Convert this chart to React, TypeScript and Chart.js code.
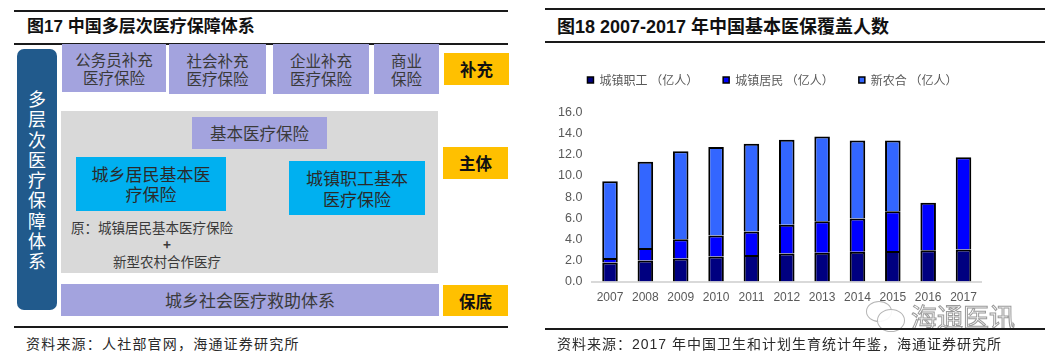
import React, { useEffect, useRef } from "react";
import { Chart, registerables } from "chart.js";

Chart.register(...registerables);

const years = ["2007", "2008", "2009", "2010", "2011", "2012", "2013", "2014", "2015", "2016", "2017"];
const urbanEmployee = [1.8, 2.0, 2.19, 2.37, 2.52, 2.65, 2.74, 2.83, 2.89, 2.96, 3.03];
const urbanResident = [0.43, 1.18, 1.82, 2.0, 2.21, 2.72, 2.96, 3.15, 3.77, 4.49, 8.74];
const newRural = [7.26, 8.15, 8.33, 8.36, 8.32, 8.05, 8.02, 7.36, 6.7, null, null];
const seriesNames = ["城镇职工 （亿人）", "城镇居民 （亿人）", "新农合 （亿人）"];
const seriesColors = ["#000080", "#0000FF", "#3366FF"];
const yTicks = [0, 2, 4, 6, 8, 10, 12, 14, 16];

const CJK = '"Noto Sans CJK SC", sans-serif';
const MIX = '"Liberation Sans", Arial, "Noto Sans CJK SC", sans-serif';

const legendGap = {
  id: "legendGap",
  beforeInit(chart: any) {
    const legend = chart.legend;
    if (!legend) return;
    const fit = legend.fit;
    legend.fit = function () {
      fit.call(this);
      this.height += 16.5;
    };
  },
  afterLayout(chart: any) {
    if (chart.legend) chart.legend.left += 14;
  },
};

function BarChart() {
  const ref = useRef<HTMLCanvasElement>(null);
  useEffect(() => {
    if (!ref.current) return;
    const data = [urbanEmployee, urbanResident, newRural];
    const chart = new Chart(ref.current, {
      type: "bar",
      data: {
        labels: years,
        datasets: data.map((d, i) => ({
          label: seriesNames[i],
          data: d as any,
          backgroundColor: seriesColors[i],
          borderColor: "#000000",
          borderWidth: 2,
          barPercentage: 0.44,
          categoryPercentage: 1,
        })),
      },
      options: {
        responsive: false,
        animation: false,
        layout: { padding: { left: 0, right: 3, top: 0, bottom: 0 } },
        plugins: {
          tooltip: { enabled: false },
          legend: {
            position: "top",
            labels: {
              boxWidth: 6,
              boxHeight: 6,
              padding: 25,
              color: "#595959",
              font: { family: CJK, size: 12 },
              generateLabels(chart: any) {
                const items = (Chart.defaults.plugins.legend.labels as any).generateLabels(chart);
                return items.map((it: any) => ({ ...it, lineWidth: 1.5 }));
              },
            },
          },
        },
        scales: {
          x: {
            stacked: true,
            grid: { display: false, drawTicks: false },
            border: { display: true, color: "#D9D9D9", width: 2 },
            ticks: {
              color: "#595959",
              padding: 9,
              font: { family: MIX, size: 12 },
              maxRotation: 0,
              autoSkip: false,
            },
          },
          y: {
            stacked: true,
            min: 0,
            max: 16,
            grid: { display: false, drawTicks: false },
            border: { display: false },
            afterBuildTicks(axis: any) {
              axis.ticks = yTicks.map((v) => ({ value: v }));
            },
            ticks: {
              color: "#595959",
              padding: 10,
              font: { family: MIX, size: 12.5 },
              callback: (v: any) => Number(v).toFixed(1),
            },
          },
        },
      },
      plugins: [legendGap],
    });
    return () => chart.destroy();
  }, []);
  return <canvas ref={ref} width={438} height={265} style={{ display: "block" }} />;
}

const abs = (l: number, t: number, w: number, h: number, extra: React.CSSProperties = {}): React.CSSProperties => ({
  position: "absolute",
  left: l,
  top: t,
  width: w,
  height: h,
  ...extra,
});

const PURPLE = "#A3A3DE";
const ORANGE = "#FFC000";
const CYAN = "#00B0F0";
const GRAY = "#D9D9D9";
const NAVYBOX = "#215A8C";

function Box(props: { l: number; t: number; w: number; h: number; bg: string; text: string; size: number; lh: number; color?: string; bold?: boolean }) {
  const { l, t, w, h, bg, text, size, lh, color, bold } = props;
  return (
    <div
      style={abs(l, t, w, h, {
        background: bg,
        display: "flex",
        alignItems: "center",
        justifyContent: "center",
        textAlign: "center",
        whiteSpace: "pre",
        fontFamily: CJK,
        fontSize: size,
        lineHeight: lh + "px",
        color: color || "#3a3a3a",
        fontWeight: bold ? 700 : 400,
      })}
    >
      {text}
    </div>
  );
}

const verticalChars = ["多", "层", "次", "医", "疗", "保", "障", "体", "系"];

function Diagram() {
  return (
    <>
      <div style={abs(14, 10, 494, 2, { background: "#1a1a1a" })} />
      <div style={abs(27, 16, 400, 22, { fontFamily: MIX, fontWeight: 700, fontSize: 17, lineHeight: "22px", color: "#111" })}>
        图17 中国多层次医疗保障体系
      </div>
      <div style={abs(14, 43, 494, 2, { background: "#1a1a1a" })} />

      <div style={abs(17, 49, 40, 261, { background: NAVYBOX, borderRadius: 7 })} />
      <div style={abs(17, 88, 40, 190, { display: "flex", flexDirection: "column", alignItems: "center" })}>
        {verticalChars.map((c, i) => (
          <div key={i} style={{ fontFamily: CJK, fontSize: 18, lineHeight: "20.3px", color: "#ffffff" }}>
            {c}
          </div>
        ))}
      </div>

      <Box l={62} t={44} w={104} h={48} bg={PURPLE} text={"公务员补充\n医疗保险"} size={15.5} lh={18} />
      <Box l={169} t={44} w={97} h={50} bg={PURPLE} text={"社会补充\n医疗保险"} size={15.5} lh={18} />
      <Box l={273} t={44} w={96} h={50} bg={PURPLE} text={"企业补充\n医疗保险"} size={15.5} lh={18} />
      <Box l={374} t={44} w={65} h={50} bg={PURPLE} text={"商业\n保险"} size={15.5} lh={18} />
      <Box l={444} t={53} w={65} h={32} bg={ORANGE} text={"补充"} size={16.5} lh={20} color="#111" bold />

      <div style={abs(61, 111, 377, 162, { background: GRAY })} />
      <Box l={192} t={117} w={135} h={32} bg={PURPLE} text={"基本医疗保险"} size={16.5} lh={20} />
      <Box l={76} t={157} w={150} h={54} bg={CYAN} text={"城乡居民基本医\n疗保险"} size={17} lh={20} color="#2a2a2a" />
      <Box l={289} t={161} w={136} h={54} bg={CYAN} text={"城镇职工基本\n医疗保险"} size={17} lh={21} color="#2a2a2a" />
      <div style={abs(61, 219, 212, 56, { fontFamily: CJK, fontSize: 13.5, lineHeight: "17px", color: "#3a3a3a", textAlign: "center" })}>
        <div style={{ textAlign: "left", paddingLeft: 10 }}>原：城镇居民基本医疗保险</div>
        <div style={{ fontWeight: 700, width: 212, textAlign: "center" }}>+</div>
        <div style={{ width: 212, textAlign: "center" }}>新型农村合作医疗</div>
      </div>
      <Box l={443} t={147} w={65} h={32} bg={ORANGE} text={"主体"} size={16.5} lh={20} color="#111" bold />

      <Box l={61} t={284} w={378} h={32} bg={PURPLE} text={"城乡社会医疗救助体系"} size={17} lh={20} />
      <Box l={443} t={285} w={65} h={31} bg={ORANGE} text={"保底"} size={16.5} lh={20} color="#111" bold />

      <div style={abs(14, 326, 494, 2, { background: "#1a1a1a" })} />
      <div style={abs(26, 333, 400, 20, { fontFamily: CJK, fontSize: 14, letterSpacing: 1.2, lineHeight: "20px", color: "#2a2a2a" })}>
        资料来源：人社部官网，海通证券研究所
      </div>
    </>
  );
}

function Watermark() {
  return (
    <>
      <div style={abs(866, 301, 24, 19, { border: "1.3px solid #b5b5b5", borderRadius: "50%", background: "rgba(255,255,255,0.6)" })} />
      <div style={abs(877, 309, 26, 21, { border: "1.3px solid #b5b5b5", borderRadius: "50%", background: "rgba(255,255,255,0.9)" })} />
      <div style={abs(911, 301, 110, 30, {
        fontFamily: CJK,
        fontSize: 26,
        lineHeight: "30px",
        color: "#ffffff",
        WebkitTextStroke: "1px #9a9a9a",
      } as any)}>
        海通医讯
      </div>
    </>
  );
}

export default function App() {
  return (
    <div style={{ position: "absolute", left: 0, top: 0, width: 1051, height: 363, background: "#ffffff", overflow: "hidden" }}>
      <Diagram />

      <div style={abs(545, 8, 500, 2, { background: "#1a1a1a" })} />
      <div style={abs(557, 15, 480, 24, { fontFamily: MIX, fontWeight: 700, fontSize: 18, lineHeight: "24px", color: "#111" })}>
        图18 2007-2017 年中国基本医保覆盖人数
      </div>
      <div style={abs(545, 41, 500, 2, { background: "#1a1a1a" })} />

      <div style={abs(548, 49, 438, 265)}>
        <BarChart />
      </div>
      <Watermark />

      <div style={abs(545, 328, 500, 2, { background: "#1a1a1a" })} />
      <div style={abs(557, 334, 480, 20, { fontFamily: MIX, fontSize: 14, letterSpacing: 1, lineHeight: "20px", color: "#2a2a2a" })}>
        资料来源：2017 年中国卫生和计划生育统计年鉴，海通证券研究所
      </div>
    </div>
  );
}
